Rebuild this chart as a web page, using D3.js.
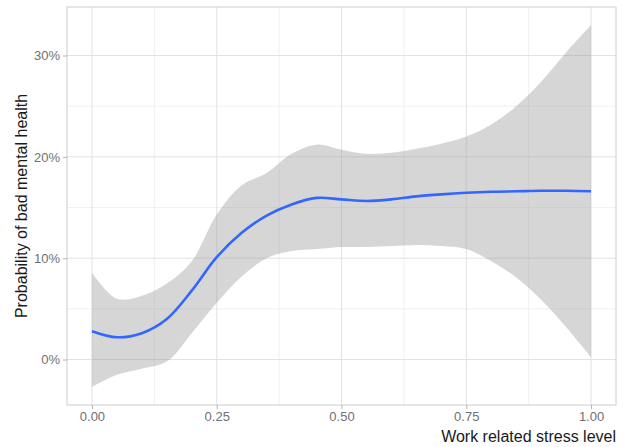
<!DOCTYPE html>
<html>
<head>
<meta charset="utf-8">
<script src="https://cdn.jsdelivr.net/npm/d3@7"></script>
<style>
  body { margin: 0; background: #fff; }
  svg { display: block; font-family: "Liberation Sans", Arial, sans-serif; }
</style>
</head>
<body>
<div class="chart"></div>
<script>
"use strict";

// DATA ----------------------------------
const stress = [0, 0.05, 0.1, 0.15, 0.2, 0.25, 0.3, 0.35, 0.4, 0.45, 0.5,
  0.55, 0.6, 0.65, 0.7, 0.75, 0.8, 0.85, 0.9, 0.95, 1];
const fit = [0.028, 0.022, 0.026, 0.040, 0.068, 0.101, 0.125, 0.142, 0.153, 0.1595, 0.158,
  0.1565, 0.158, 0.161, 0.163, 0.1645, 0.1655, 0.166, 0.1665, 0.1665, 0.166];
const lower = [-0.027, -0.015, -0.009, -0.002, 0.026, 0.056, 0.082, 0.100, 0.107, 0.109, 0.111,
  0.111, 0.112, 0.113, 0.112, 0.109, 0.097, 0.081, 0.059, 0.032, 0.002];
const upper = [0.086, 0.060, 0.063, 0.075, 0.097, 0.143, 0.172, 0.184, 0.203, 0.212, 0.207,
  0.203, 0.204, 0.208, 0.213, 0.220, 0.232, 0.250, 0.274, 0.303, 0.330];

const xTicks = [0, 0.25, 0.5, 0.75, 1];
const xMinor = [0.125, 0.375, 0.625, 0.875];
const yTicks = [0, 0.1, 0.2, 0.3];
const yMinor = [0.05, 0.15, 0.25];

const X_TITLE = "Work related stress level";
const Y_TITLE = "Probability of bad mental health";

const data = stress.map((s, i) => ({ s: s, fit: fit[i], lo: lower[i], hi: upper[i] }));

// LAYOUT --------------------------------
const W = 623, H = 447;
const MARGIN = { top: 7, right: 7, bottom: 42, left: 67 };
const WIDTH = W - MARGIN.left - MARGIN.right,
  HEIGHT = H - MARGIN.top - MARGIN.bottom;

const svg = d3.select(".chart")
  .append("svg")
  .attr("width", W)
  .attr("height", H);

const g = svg.append("g")
  .attr("transform", `translate(${MARGIN.left},${MARGIN.top})`);

// ggplot-like 5% expansion
function expand(ext) {
  const pad = (ext[1] - ext[0]) * 0.05;
  return [ext[0] - pad, ext[1] + pad];
}

const xScale = d3.scaleLinear()
  .domain(expand(d3.extent(stress)))
  .range([0, WIDTH]);

const yScale = d3.scaleLinear()
  .domain(expand([d3.min(lower), d3.max(upper)]))
  .range([HEIGHT, 0]);

// GRID ----------------------------------
const grid = g.append("g").attr("class", "grid");

grid.selectAll(".xminor").data(xMinor).enter().append("line")
  .attr("x1", d => xScale(d)).attr("x2", d => xScale(d))
  .attr("y1", 0).attr("y2", HEIGHT)
  .attr("stroke", "#f0f0f0").attr("stroke-width", 1);

grid.selectAll(".yminor").data(yMinor).enter().append("line")
  .attr("y1", d => yScale(d)).attr("y2", d => yScale(d))
  .attr("x1", 0).attr("x2", WIDTH)
  .attr("stroke", "#f0f0f0").attr("stroke-width", 1);

grid.selectAll(".xmajor").data(xTicks).enter().append("line")
  .attr("x1", d => xScale(d)).attr("x2", d => xScale(d))
  .attr("y1", 0).attr("y2", HEIGHT)
  .attr("stroke", "#e2e2e2").attr("stroke-width", 1);

grid.selectAll(".ymajor").data(yTicks).enter().append("line")
  .attr("y1", d => yScale(d)).attr("y2", d => yScale(d))
  .attr("x1", 0).attr("x2", WIDTH)
  .attr("stroke", "#e2e2e2").attr("stroke-width", 1);

// RIBBON + LINE -------------------------
const area = d3.area()
  .x(d => xScale(d.s))
  .y0(d => yScale(d.lo))
  .y1(d => yScale(d.hi))
  .curve(d3.curveCatmullRom);

const line = d3.line()
  .x(d => xScale(d.s))
  .y(d => yScale(d.fit))
  .curve(d3.curveCatmullRom);

g.append("path")
  .datum(data)
  .attr("d", area)
  .attr("fill", "#999999")
  .attr("fill-opacity", 0.4);

g.append("path")
  .datum(data)
  .attr("d", line)
  .attr("fill", "none")
  .attr("stroke", "#3366FF")
  .attr("stroke-width", 2.6);

// panel border
g.append("rect")
  .attr("x", 0).attr("y", 0)
  .attr("width", WIDTH).attr("height", HEIGHT)
  .attr("fill", "none")
  .attr("stroke", "#cccccc")
  .attr("stroke-width", 1);

// AXES ----------------------------------
const xAxis = d3.axisBottom(xScale)
  .tickValues(xTicks)
  .tickFormat(d3.format(".2f"))
  .tickSize(4)
  .tickPadding(3);

const yAxis = d3.axisLeft(yScale)
  .tickValues(yTicks)
  .tickFormat(d3.format(".0%"))
  .tickSize(4)
  .tickPadding(3);

const xGroup = g.append("g")
  .attr("transform", `translate(0,${HEIGHT})`)
  .call(xAxis);

const yGroup = g.append("g").call(yAxis);

[xGroup, yGroup].forEach(ax => {
  ax.select(".domain").remove();
  ax.selectAll(".tick line").attr("stroke", "#b3b3b3");
  ax.selectAll(".tick text")
    .attr("fill", "#707070")
    .style("font-size", "13px");
});

// titles
svg.append("text")
  .attr("x", MARGIN.left + WIDTH)
  .attr("y", 442)
  .attr("text-anchor", "end")
  .attr("fill", "#1a1a1a")
  .style("font-size", "16px")
  .text(X_TITLE);

svg.append("text")
  .attr("transform", `translate(27,${MARGIN.top + HEIGHT / 2}) rotate(-90)`)
  .attr("text-anchor", "middle")
  .attr("fill", "#1a1a1a")
  .style("font-size", "16px")
  .text(Y_TITLE);
</script>
</body>
</html>
